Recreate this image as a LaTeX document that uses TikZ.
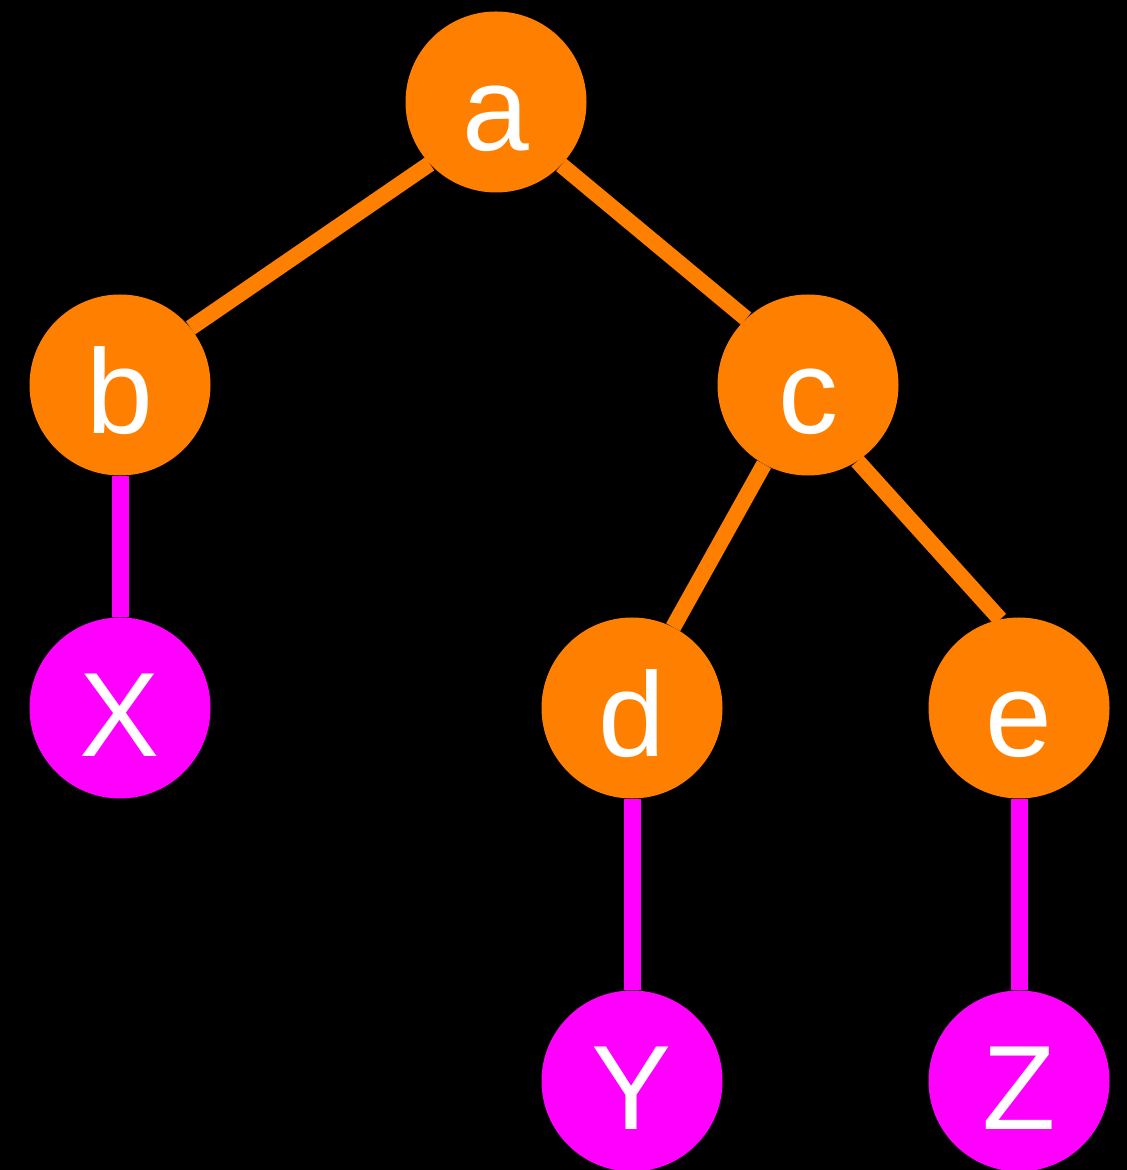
\documentclass[tikz,border=0pt]{standalone}
\usepackage{fontspec}
\setmainfont{Liberation Sans}
\pgfdeclarelayer{bbg}
\pgfdeclarelayer{edges}
\pgfsetlayers{bbg,edges,main}
\begin{document}
\begin{tikzpicture}[x=1pt,y=1pt,
  tnode/.style={circle,minimum size=181pt,inner sep=0pt,text=white,
    font=\fontsize{120}{120}\selectfont,text height=98pt,text depth=0pt},
  orn/.style={tnode,fill=orng},
  mag/.style={tnode,fill=magc},
  oedge/.style={draw=orng,line width=16pt},
  medge/.style={draw=magc,line width=17pt}]
\definecolor{orng}{HTML}{FF8000}
\definecolor{magc}{HTML}{FF00FF}
\begin{pgfonlayer}{bbg}
\fill[black] (0,0) rectangle (1127,1170);
\end{pgfonlayer}
\useasboundingbox (0,0) rectangle (1127,1170);
\node[orn] (a) at (496,1068) {a};
\node[orn] (b) at (120,785) {b};
\node[orn] (c) at (808,785) {c};
\node[mag] (x) at (120,462) {X};
\node[orn] (d) at (632,462) {d};
\node[orn] (e) at (1019,462) {e};
\node[mag] (y) at (632,89) {Y};
\node[mag] (z) at (1019,89) {Z};
\begin{pgfonlayer}{edges}
\draw[oedge] (a.223) -- (b.39);
\draw[oedge] (a.316) -- (c.133);
\draw[oedge] (c.241) -- (d.63);
\draw[oedge] (c.303) -- (e.102);
\draw[medge] (b.south) -- (x.north);
\draw[medge] (d.south) -- (y.north);
\draw[medge] (e.south) -- (z.north);
\end{pgfonlayer}
\end{tikzpicture}
\end{document}
